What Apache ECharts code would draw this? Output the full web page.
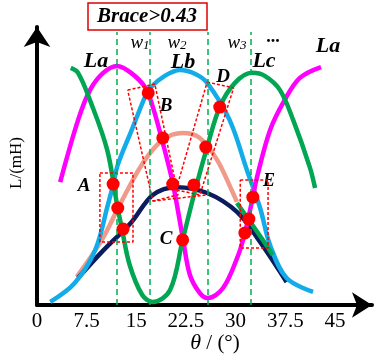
<!DOCTYPE html>
<html>
<head>
<meta charset="utf-8">
<script src="https://cdn.jsdelivr.net/npm/echarts@6/dist/echarts.min.js"></script>
<style>
  html, body { margin: 0; padding: 0; background: #fff; }
  #chart { width: 374px; height: 358px; }
</style>
</head>
<body>
<div id="chart"></div>
<script>
// tick labels on the theta axis (degrees)
var xTicks = [0, 7.5, 15, 22.5, 30, 37.5, 45];

// inductance curves, [theta, L]
var curveLa = [
  [3.5, 4.42], [6.2, 6.65], [8.0, 7.73], [10.0, 8.35], [12.1, 8.6], [14.2, 8.35],
  [16.3, 7.84], [17.5, 7.12], [19.0, 5.83], [20.5, 4.39], [22.0, 2.45],
  [23.1, 1.08], [24.6, 0.43], [25.8, 0.25], [28.1, 0.61], [30.4, 1.8],
  [31.4, 2.59], [32.6, 3.88], [33.2, 4.57], [35.2, 6.29], [37.4, 7.37],
  [39.7, 8.17], [42.9, 8.56]
];
var curveLb = [
  [2.0, 0.11], [5.7, 0.79], [8.8, 1.98], [10.7, 3.6], [11.5, 4.32], [12.2, 5.04],
  [14.3, 6.29], [16.3, 7.48], [17.1, 7.81], [19.3, 8.24], [21.6, 8.45],
  [23.9, 8.31], [25.7, 7.99], [29.1, 6.65], [31.7, 4.86], [33.7, 3.49],
  [35.2, 2.16], [37.7, 0.97], [41.7, 0.47]
];
var curveLc = [
  [5.1, 8.53], [6.2, 8.35], [8.0, 7.37], [10.6, 5.58], [12.1, 3.6], [12.8, 2.77],
  [14.0, 1.44], [15.9, 0.36], [17.5, 0.11], [20.1, 0.54], [22.0, 2.34],
  [23.9, 4.14], [25.7, 5.68], [27.6, 7.12], [29.9, 7.99], [32.5, 8.35],
  [34.4, 8.24], [36.7, 7.73], [38.7, 6.65], [41.2, 4.96], [42.0, 4.21]
];
var curveLcTail = [[30.2, 3.67], [33.7, 2.48], [35.6, 1.8]];
var curveMid = [
  [6.2, 0.97], [9.8, 1.91], [14.3, 2.99], [17.5, 3.96], [21.1, 4.24],
  [25.7, 4.03], [30.2, 3.35], [33.7, 2.27], [37.7, 0.83]
];
var curveHigh = [
  [6.0, 1.01], [9.8, 2.34], [12.5, 3.6], [16.0, 5.11], [19.0, 5.94],
  [22.0, 6.19], [24.6, 6.01], [27.2, 5.22], [29.6, 4.03], [30.2, 3.71]
];

// switching points
var points = [
  [16.8, 7.63], [27.6, 7.12], [19.0, 6.01], [25.5, 5.68], [20.5, 4.35],
  [23.7, 4.32], [11.5, 4.35], [12.2, 3.49], [13.0, 2.73], [22.0, 2.34],
  [32.6, 3.88], [32.0, 3.09], [31.4, 2.59]
];

// dashed window borders
var windowEdges = [12.1, 17.1, 25.8, 32.3];

// dotted boxes around the point groups
var boxA = [[9.5, 4.75], [14.5, 4.75], [14.5, 2.27], [9.5, 2.27], [9.5, 4.75]];
var boxE = [[30.7, 4.5], [34.9, 4.5], [34.9, 2.05], [30.7, 2.05], [30.7, 4.5]];
var boxB = [[13.7, 7.73], [17.8, 7.95], [21.3, 3.96], [17.5, 3.74], [13.7, 7.73]];
var boxD = [[25.7, 8.02], [29.7, 7.81], [24.6, 3.96], [21.0, 4.14], [25.7, 8.02]];
var boxBase = [[17.5, 3.74], [25.7, 3.96]];

var chart = echarts.init(document.getElementById('chart'));

var serif = 'Liberation Serif';

function curve(data, color) {
  return {
    type: 'line', data: data, smooth: 0.35, symbol: 'none',
    lineStyle: { color: color, width: 4.5 }, silent: true
  };
}
function dotted(data) {
  return {
    type: 'line', data: data, symbol: 'none', z: 4,
    lineStyle: { color: '#ff0000', width: 1.5, type: [3, 2] }
  };
}
function label(x, y, txt, size) {
  return {
    type: 'text', x: x, y: y,
    style: { text: txt, font: 'italic bold ' + size + 'px ' + serif, fill: '#000', align: 'center', verticalAlign: 'middle' }
  };
}
function wLabel(x, y, n) {
  return {
    type: 'text', x: x, y: y,
    style: {
      text: '{w|w}{s|' + n + '}', align: 'center', verticalAlign: 'middle',
      rich: {
        w: { font: 'italic 19px ' + serif, fill: '#000' },
        s: { font: 'italic 13px ' + serif, fill: '#000', padding: [5, 0, 0, 0] }
      }
    }
  };
}

var option = {
  animation: false,
  grid: { left: 37, right: 2, top: 27, bottom: 53, outerBoundsMode: 'none' },
  xAxis: {
    type: 'value', min: 0, max: 50.6,
    axisLine: { lineStyle: { color: '#000', width: 4 }, symbol: ['none', 'arrow'], symbolSize: [19, 20] },
    axisTick: { show: false },
    splitLine: { show: false },
    axisLabel: {
      customValues: xTicks, color: '#000', fontSize: 21, fontFamily: serif, margin: 6,
      showMinLabel: true, showMaxLabel: true
    }
  },
  yAxis: {
    type: 'value', min: 0, max: 10,
    axisLine: { show: true, lineStyle: { color: '#000', width: 4 }, symbol: ['none', 'arrow'], symbolSize: [20, 20] },
    axisTick: { show: false },
    splitLine: { show: false },
    axisLabel: { show: false }
  },
  series: [
    {
      type: 'line', data: [], symbol: 'none',
      markLine: {
        symbol: 'none', silent: true, label: { show: false },
        lineStyle: { color: '#00b050', width: 1.5, type: [6, 4] },
        data: windowEdges.map(function (x) { return [{ coord: [x, 0] }, { coord: [x, 9.82] }]; })
      }
    },
    curve(curveHigh, '#f09a8a'),
    curve(curveMid, '#0c1b5e'),
    curve(curveLb, '#14ace8'),
    curve(curveLcTail, '#00a651'),
    curve(curveLa, '#ff00ff'),
    curve(curveLc, '#00a651'),
    dotted(boxA), dotted(boxE), dotted(boxB), dotted(boxD), dotted(boxBase),
    {
      type: 'scatter', data: points, symbolSize: 13, z: 5,
      itemStyle: { color: '#ff0000', opacity: 1 }
    }
  ],
  graphic: [
    { type: 'rect', shape: { x: 88, y: 3, width: 119, height: 27 }, style: { fill: '#fff', stroke: '#e00000', lineWidth: 1.5 } },
    label(147, 17, 'Brace>0.43', 21),
    wLabel(140, 43, 1),
    wLabel(177, 43, 2),
    wLabel(237, 43, 3),
    { type: 'text', x: 273, y: 37, style: { text: '...', font: 'bold 18px ' + serif, fill: '#000', align: 'center', verticalAlign: 'middle' } },
    label(96, 61, 'La', 22),
    label(183, 62, 'Lb', 22),
    label(264, 61, 'Lc', 22),
    label(328, 46, 'La', 22),
    label(84, 186, 'A', 19),
    label(166, 106, 'B', 19),
    label(166, 239, 'C', 19),
    label(223, 77, 'D', 19),
    label(269, 181, 'E', 18),
    { type: 'text', x: 17, y: 163, rotation: Math.PI / 2, style: { text: 'L/(mH)', font: '17px ' + serif, fill: '#000', align: 'center', verticalAlign: 'middle' } },
    { type: 'text', x: 215, y: 343, style: { text: '{t|θ} / (°)', font: '21px ' + serif, fill: '#000', align: 'center', verticalAlign: 'middle', rich: { t: { font: 'italic 22px ' + serif, fill: '#000' } } } }
  ]
};

chart.setOption(option);
</script>
</body>
</html>
